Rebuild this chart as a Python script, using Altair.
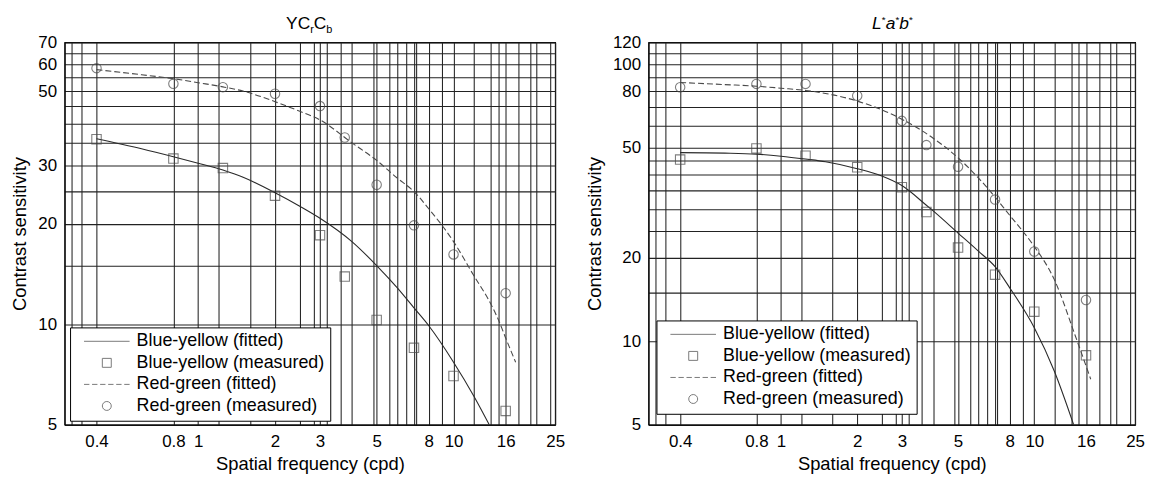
import altair as alt
import pandas as pd

# ---------------- data ----------------
SERIES = ["Blue-yellow (fitted)", "Blue-yellow (measured)",
          "Red-green (fitted)", "Red-green (measured)"]

FREQ_MEASURED = [0.4, 0.8, 1.25, 2, 3, 3.75, 5, 7, 10, 16]

# YCrCb panel
YCC_BY_MEASURED = [35.9, 31.4, 29.4, 24.3, 18.5, 13.9, 10.3, 8.5, 7.0, 5.5]
YCC_RG_MEASURED = [58.6, 52.6, 51.4, 49.1, 45.1, 36.3, 26.2, 19.8, 16.2, 12.4]
YCC_BY_FIT_FREQ = [0.4, 0.6, 0.8, 1, 1.25, 1.5, 2, 2.5, 3, 4, 5, 6, 7, 8, 10, 12, 13.8]
YCC_BY_FIT = [36, 33.6, 31.8, 30.4, 29, 27.6, 24.8, 22.6, 20.8, 17.7, 15, 12.9, 11.2, 9.9, 7.7, 6.1, 5]
YCC_RG_FIT_FREQ = [0.4, 0.6, 0.8, 1, 1.25, 1.5, 2, 2.5, 3, 4, 5, 6, 7, 8, 10, 12, 14, 15, 16, 17.5]
YCC_RG_FIT = [58, 56, 54.5, 53, 51.5, 50, 46.5, 43.5, 41, 35, 31, 27.5, 25, 22.2, 17.7, 14, 11.5, 10.3, 9.1, 7.7]

# L*a*b* panel
LAB_BY_MEASURED = [45.3, 49.7, 46.8, 42.5, 36.0, 29.3, 21.8, 17.4, 12.8, 8.9]
LAB_RG_MEASURED = [82.7, 85, 85, 77, 62.5, 51.1, 42.7, 32.5, 21.1, 14.1]
LAB_BY_FIT_FREQ = [0.4, 0.6, 0.8, 1, 1.25, 1.5, 2, 2.5, 3, 3.75, 4, 5, 6, 7, 8, 10, 12, 14.3]
LAB_BY_FIT = [48, 47.8, 47.4, 46.6, 45.5, 44.5, 42, 39.5, 36.5, 31, 29.5, 24.6, 21.2, 18.6, 15.6, 11.2, 7.8, 5]
LAB_RG_FIT_FREQ = [0.4, 0.6, 0.8, 1, 1.25, 1.5, 2, 2.5, 3, 4, 5, 6, 7, 8, 9, 10, 12, 14.5, 16.7]
LAB_RG_FIT = [86, 84.5, 83.4, 82, 80.5, 78.5, 73.7, 68.5, 63.4, 54, 46, 39, 33.2, 28.5, 25, 22, 16.7, 10.5, 7.3]

# axes: tick labels and grid lines
X_LABELS = [0.4, 0.8, 1, 2, 3, 5, 8, 10, 16, 25]
X_GRID = [0.32, 0.35, 0.4, 0.8, 1, 1.2, 1.6, 2, 2.5, 2.85, 3, 3.2, 3.6, 4, 4.85, 5,
          5.6, 6, 6.5, 7, 7.15, 8, 9, 10, 12, 14, 15, 16, 18, 20, 21, 24, 25]
X_DOMAIN = [0.3, 25]

YCC_Y_LABELS = [5, 10, 20, 30, 50, 60, 70]
YCC_Y_GRID = [5, 10, 15, 20, 25, 30, 35, 40, 45, 50, 55, 60, 65, 70]
YCC_Y_DOMAIN = [5, 70]

LAB_Y_LABELS = [5, 10, 20, 50, 80, 100, 120]
LAB_Y_GRID = [5, 10, 15, 20, 25, 30, 35, 40, 45, 50, 60, 70, 80, 90, 100, 110, 120]
LAB_Y_DOMAIN = [5, 120]

# ---------------- styling ----------------
FONT = "Liberation Sans"
INK = "#2a2a2a"
LINE_PATH = "M-5.1,0H5.1"
DASH_PATH = "M-5.1,0H-3.9M-3.3,0H-2.1M-1.5,0H-0.3M0.3,0H1.5M2.1,0H3.3M3.9,0H5.1"
SQUARE_PATH = "M-1,-1H1V1H-1Z"
CIRCLE_PATH = "M1,0A1,1,0,1,1,-1,0A1,1,0,1,1,1,0Z"


def label_expr(values):
    arr = ",".join(repr(v) for v in values)
    return f"indexof([{arr}], datum.value) >= 0 ? datum.label : ''"


def panel(by_meas, rg_meas, by_ff, by_f, rg_ff, rg_f, y_domain, y_grid, y_labels,
          width, height, legend_x, legend_y, title_marks):
    meas = pd.DataFrame({
        "f": FREQ_MEASURED + FREQ_MEASURED,
        "v": by_meas + rg_meas,
        "series": [SERIES[1]] * len(by_meas) + [SERIES[3]] * len(rg_meas),
    })
    by_fit = pd.DataFrame({"f": by_ff, "v": by_f})
    rg_fit = pd.DataFrame({"f": rg_ff, "v": rg_f})

    xenc = alt.X("f:Q",
                 scale=alt.Scale(type="log", domain=X_DOMAIN, nice=False),
                 axis=alt.Axis(values=X_GRID, labelExpr=label_expr(X_LABELS), format="~g",
                               title="Spatial frequency (cpd)", labelPadding=9,
                               titlePadding=5))
    yenc = alt.Y("v:Q",
                 scale=alt.Scale(type="log", domain=y_domain, nice=False),
                 axis=alt.Axis(values=y_grid, labelExpr=label_expr(y_labels), format="~g",
                               title="Contrast sensitivity", labelPadding=8,
                               titlePadding=8))

    by_line = alt.Chart(by_fit).mark_line(clip=True, color=INK, strokeWidth=1.1,
                                          interpolate="monotone").encode(x=xenc, y=yenc)
    rg_line = alt.Chart(rg_fit).mark_line(clip=True, color="#4a4a4a", strokeWidth=1.1,
                                          strokeDash=[6, 3], interpolate="monotone").encode(
        x=xenc, y=yenc)
    pts = alt.Chart(meas).mark_point(filled=False, color="#4a4a4a", size=90,
                                     strokeWidth=1.1, clip=True).encode(
        x=xenc, y=yenc,
        shape=alt.Shape("series:N",
                        scale=alt.Scale(domain=SERIES,
                                        range=[LINE_PATH, SQUARE_PATH, DASH_PATH, CIRCLE_PATH]),
                        legend=alt.Legend(orient="none", legendX=legend_x, legendY=legend_y,
                                          title=None)))
    return alt.layer(by_line, rg_line, pts, *title_marks).properties(width=width, height=height)


def txt(s, x, y, size=17, italic=False):
    return alt.Chart(pd.DataFrame({"k": [0]})).mark_text(
        text=s, font=FONT, fontSize=size, align="left", baseline="alphabetic",
        fontStyle="italic" if italic else "normal", color="black"
    ).encode(x=alt.value(x), y=alt.value(y))


W1, W2, H = 494, 490, 385

ycc_title = [txt("YC", 223, -13, 17.5), txt("r", 247.3, -9, 11), txt("C", 251, -13, 17.5),
             txt("b", 263.6, -9, 11)]
lab_title = [txt("L", 225, -13, 17.5, italic=True), txt("*", 234.8, -20, 10),
             txt("a", 238.8, -13, 17.5, italic=True), txt("*", 248.6, -20, 10),
             txt("b", 252.6, -13, 17.5, italic=True), txt("*", 262.4, -20, 10)]

left = panel(YCC_BY_MEASURED, YCC_RG_MEASURED, YCC_BY_FIT_FREQ, YCC_BY_FIT,
             YCC_RG_FIT_FREQ, YCC_RG_FIT, YCC_Y_DOMAIN, YCC_Y_GRID, YCC_Y_LABELS,
             W1, H, 5.5, 287, ycc_title)
right = panel(LAB_BY_MEASURED, LAB_RG_MEASURED, LAB_BY_FIT_FREQ, LAB_BY_FIT,
              LAB_RG_FIT_FREQ, LAB_RG_FIT, LAB_Y_DOMAIN, LAB_Y_GRID, LAB_Y_LABELS,
              W2, H, 8, 280, lab_title)

chart = alt.hconcat(left, right, spacing=94, bounds="flush").resolve_scale(
    x="independent", y="independent", shape="independent"
).resolve_legend(shape="independent").properties(
    padding={"left": 2, "top": 4, "right": 4, "bottom": 1}
).configure_view(
    stroke="black", strokeWidth=1.2
).configure_axis(
    grid=True, gridColor="#222222", gridWidth=1.05, gridOpacity=1,
    domainColor="black", ticks=False,
    labelFont=FONT, labelFontSize=17, labelColor="black",
    titleFont=FONT, titleFontSize=18.5, titleFontWeight="normal", titleColor="black",
    labelOverlap=False, labelFlush=False
).configure_legend(
    strokeColor="black", fillColor="white", padding=5, cornerRadius=0,
    symbolOffset=23, labelOffset=21, rowPadding=3.7,
    labelFont=FONT, labelFontSize=18, labelColor="black", labelLimit=0,
    symbolSize=81, symbolStrokeWidth=1, symbolStrokeColor="#444",
    symbolFillColor="transparent"
)

chart.save("out.html", embed_options={"renderer": "svg", "actions": False})
